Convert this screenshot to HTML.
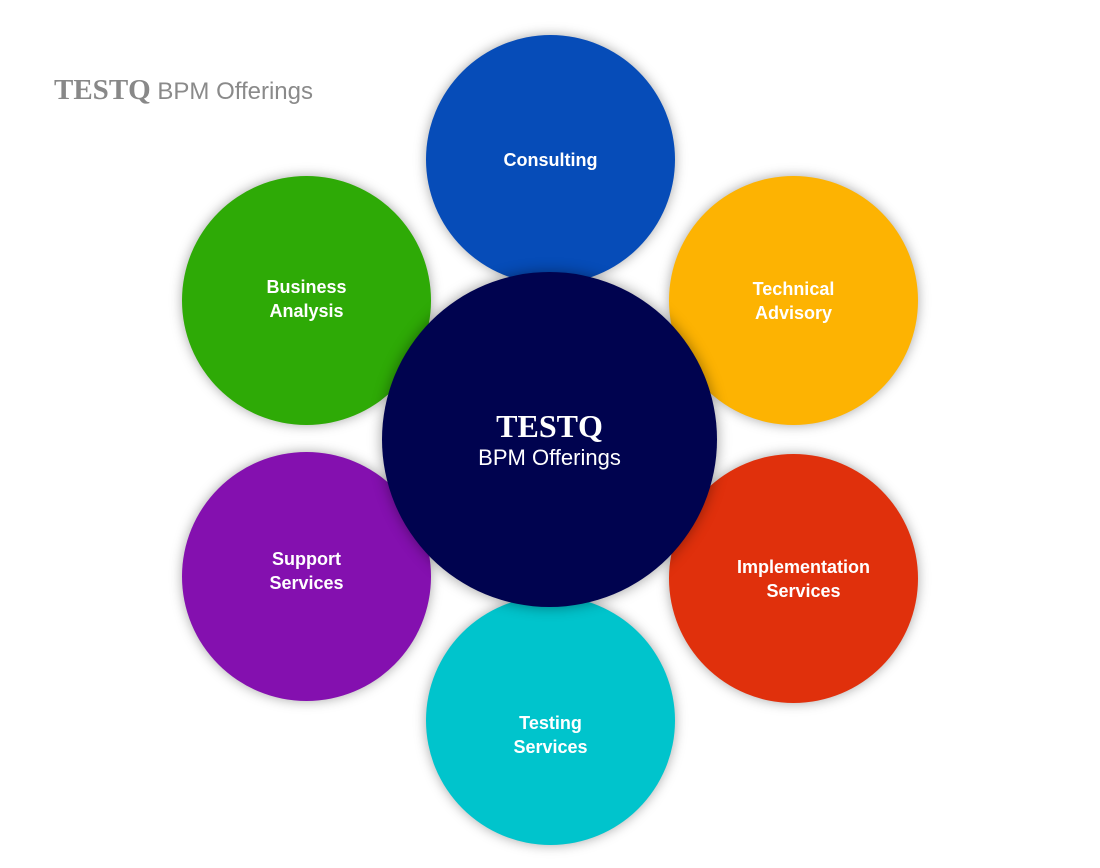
<!DOCTYPE html>
<html><head><style>
body{margin:0;width:1100px;height:868px;background:#fff;position:relative;overflow:hidden;font-family:"Liberation Sans",sans-serif}
.c{position:absolute;border-radius:50%;display:flex;align-items:center;justify-content:center;text-align:center;color:#fff;font-weight:bold;font-size:18px;line-height:24px;box-shadow:0 0 12px rgba(0,0,0,.35)}
.t{position:absolute;left:54px;top:74px;color:#8a8a8a;font-size:24px}
.t b{font-family:"Liberation Serif",serif;font-size:29px;color:#888}
</style></head><body>
<div class="t"><b>TESTQ</b> BPM Offerings</div>
<div class="c" style="left:426px;top:35px;width:249px;height:249px;background:#064cb8">Consulting</div>
<div class="c" style="left:182px;top:176px;width:249px;height:249px;background:#2eaa06;padding-bottom:4px;box-sizing:border-box">Business<br>Analysis</div>
<div class="c" style="left:669px;top:176px;width:249px;height:249px;background:#fdb302">Technical<br>Advisory</div>
<div class="c" style="left:182px;top:452px;width:249px;height:249px;background:#8410af;padding-bottom:12px;box-sizing:border-box">Support<br>Services</div>
<div class="c" style="left:669px;top:454px;width:249px;height:249px;background:#e0300c;padding-left:20px;box-sizing:border-box">Implementation<br>Services</div>
<div class="c" style="left:426px;top:596px;width:249px;height:249px;background:#00c4cc;padding-top:28px;box-sizing:border-box">Testing<br>Services</div>
<div class="c" style="left:382px;top:272px;width:335px;height:335px;background:#00034f;font-weight:normal;font-size:22px;line-height:28px;flex-direction:column;box-shadow:0 0 14px rgba(0,0,0,.4)">
<div style="font-family:'Liberation Serif',serif;font-weight:bold;font-size:32px;line-height:36px">TESTQ</div><div>BPM Offerings</div></div>
</body></html>
